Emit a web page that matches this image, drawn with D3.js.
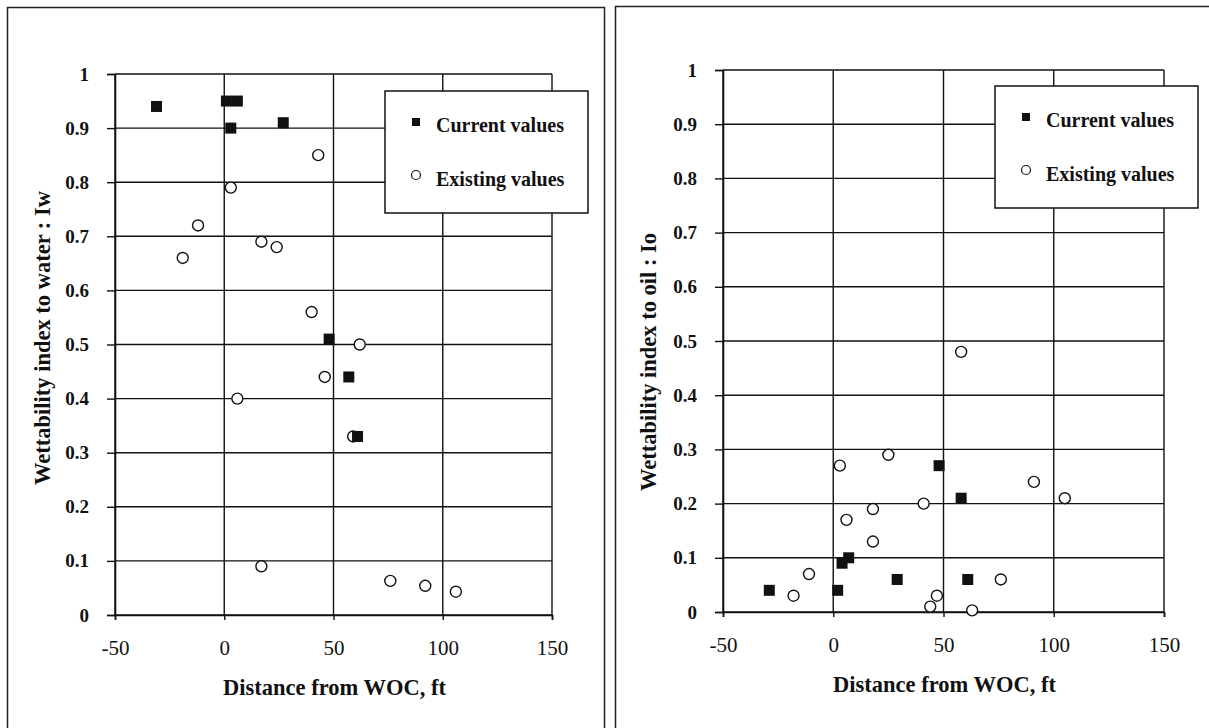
<!DOCTYPE html>
<html><head><meta charset="utf-8">
<script src="https://cdn.jsdelivr.net/npm/d3@7"></script>
<style>
html,body{margin:0;padding:0;background:#fff;}
svg{display:block;}
</style></head>
<body>
<svg id="chart" width="1209" height="728"></svg>
<script>
// ---- data ----
const seriesNames = ["Current values", "Existing values"];
const xTickValues = [-50, 0, 50, 100, 150];
const xTickLabels = ["-50", "0", "50", "100", "150"];
const yTickValues = [0, 0.1, 0.2, 0.3, 0.4, 0.5, 0.6, 0.7, 0.8, 0.9, 1];
const yTickLabels = ["0", "0.1", "0.2", "0.3", "0.4", "0.5", "0.6", "0.7", "0.8", "0.9", "1"];
const xTitle = "Distance from WOC, ft";
const yTitles = ["Wettability index to water : Iw", "Wettability index to oil : Io"];

// Panel 1: Iw
const iwCurrentX = [-31, 1, 6, 3, 27, 48, 57, 61];
const iwCurrentY = [0.94, 0.95, 0.95, 0.90, 0.91, 0.51, 0.44, 0.33];
const iwExistingX = [43, 3, -12, -19, 17, 24, 40, 62, 46, 6, 59, 17, 76, 92, 106];
const iwExistingY = [0.85, 0.79, 0.72, 0.66, 0.69, 0.68, 0.56, 0.50, 0.44, 0.40, 0.33, 0.09, 0.063, 0.054, 0.043];

// Panel 2: Io
const ioCurrentX = [-29, 2, 4, 7, 29, 48, 58, 61];
const ioCurrentY = [0.04, 0.04, 0.09, 0.10, 0.06, 0.27, 0.21, 0.06];
const ioExistingX = [-18, -11, 3, 6, 18, 18, 25, 41, 44, 47, 58, 63, 76, 91, 105];
const ioExistingY = [0.03, 0.07, 0.27, 0.17, 0.19, 0.13, 0.29, 0.20, 0.01, 0.03, 0.48, 0.003, 0.06, 0.24, 0.21];

// ---- drawing ----
const svg = d3.select("#chart");
const serif = "'Liberation Serif','Times New Roman',serif";

// panel frames
svg.append("rect").attr("x", 7.5).attr("y", 7.5).attr("width", 597).attr("height", 740)
  .attr("fill", "none").attr("stroke", "#222").attr("stroke-width", 1.5);
svg.append("rect").attr("x", 615.5).attr("y", 6.5).attr("width", 600).attr("height", 740)
  .attr("fill", "none").attr("stroke", "#222").attr("stroke-width", 1.5);

function zip(xs, ys) { return xs.map((x, i) => ({x: x, y: ys[i]})); }

function panel(cfg) {
  const x = d3.scaleLinear().domain([-50, 150]).range([cfg.left, cfg.right]);
  const y = d3.scaleLinear().domain([0, 1]).range([cfg.bottom, cfg.top]);
  const g = svg.append("g");

  // grid
  g.append("g").selectAll("line").data(yTickValues).join("line")
    .attr("x1", cfg.left).attr("x2", cfg.right)
    .attr("y1", d => y(d)).attr("y2", d => y(d))
    .attr("stroke", "#111").attr("stroke-width", 1.4);
  g.append("g").selectAll("line").data(xTickValues).join("line")
    .attr("y1", cfg.top).attr("y2", cfg.bottom)
    .attr("x1", d => x(d)).attr("x2", d => x(d))
    .attr("stroke", "#111").attr("stroke-width", 1.4);

  // axes
  const ya = d3.axisLeft(y).tickValues(yTickValues).tickSize(8)
    .tickFormat((d, i) => yTickLabels[i]);
  const yg = g.append("g").attr("transform", `translate(${cfg.left},0)`).call(ya);
  yg.select(".domain").attr("stroke", "#111").attr("stroke-width", 1.6);
  yg.selectAll(".tick line").attr("stroke", "#111").attr("stroke-width", 1.4);
  yg.selectAll(".tick text").attr("x", -26).attr("font-family", serif)
    .attr("font-size", 19).attr("font-weight", "bold").attr("fill", "#111");

  const xa = d3.axisBottom(x).tickValues(xTickValues).tickSize(5)
    .tickFormat((d, i) => xTickLabels[i]);
  const xg = g.append("g").attr("transform", `translate(0,${cfg.bottom})`).call(xa);
  xg.select(".domain").attr("stroke", "#111").attr("stroke-width", 1.6);
  xg.selectAll(".tick line").attr("stroke", "#111").attr("stroke-width", 1.4);
  xg.selectAll(".tick text").attr("y", 25).attr("font-family", serif)
    .attr("font-size", 21).attr("fill", "#111");

  // titles
  g.append("text").attr("x", (cfg.left + cfg.right) / 2 + 1).attr("y", cfg.bottom + 80)
    .attr("text-anchor", "middle").attr("font-family", serif).attr("font-weight", "bold")
    .attr("font-size", 22.5).attr("fill", "#111").text(xTitle);
  g.append("text")
    .attr("transform", `translate(${cfg.ytx},${cfg.ytc}) rotate(-90)`)
    .attr("text-anchor", "middle").attr("font-family", serif).attr("font-weight", "bold")
    .attr("font-size", 22.5).attr("fill", "#111").text(cfg.yTitle);

  // points
  const s = 11;
  g.append("g").selectAll("circle").data(zip(cfg.exX, cfg.exY)).join("circle")
    .attr("cx", d => x(d.x)).attr("cy", d => y(d.y)).attr("r", 5.5)
    .attr("fill", "#fff").attr("stroke", "#111").attr("stroke-width", 1.4);
  g.append("g").selectAll("rect").data(zip(cfg.cuX, cfg.cuY)).join("rect")
    .attr("x", d => x(d.x) - s / 2).attr("y", d => y(d.y) - s / 2)
    .attr("width", s).attr("height", s).attr("fill", "#111");

  // legend
  const L = cfg.legend;
  const lg = g.append("g");
  lg.append("rect").attr("x", L.x).attr("y", L.y).attr("width", 203).attr("height", 122)
    .attr("fill", "#fff").attr("stroke", "#111").attr("stroke-width", 1.5);
  lg.append("rect").attr("x", L.x + 27).attr("y", L.y + 27).attr("width", 8).attr("height", 8)
    .attr("fill", "#111");
  lg.append("circle").attr("cx", L.x + 31).attr("cy", L.y + 84).attr("r", 4.5)
    .attr("fill", "#fff").attr("stroke", "#111").attr("stroke-width", 1.2);
  lg.selectAll("text").data(seriesNames).join("text")
    .attr("x", L.x + 51).attr("y", (d, i) => L.y + 41 + i * 54)
    .attr("font-family", serif).attr("font-weight", "bold").attr("font-size", 20)
    .attr("fill", "#111").text(d => d);
}

panel({left: 115, right: 552, top: 74, bottom: 615, ytx: 50, ytc: 338, yTitle: yTitles[0],
  cuX: iwCurrentX, cuY: iwCurrentY, exX: iwExistingX, exY: iwExistingY,
  legend: {x: 385, y: 91}});
panel({left: 723, right: 1164, top: 70, bottom: 612, ytx: 656, ytc: 362, yTitle: yTitles[1],
  cuX: ioCurrentX, cuY: ioCurrentY, exX: ioExistingX, exY: ioExistingY,
  legend: {x: 995, y: 86}});
</script>
</body></html>
